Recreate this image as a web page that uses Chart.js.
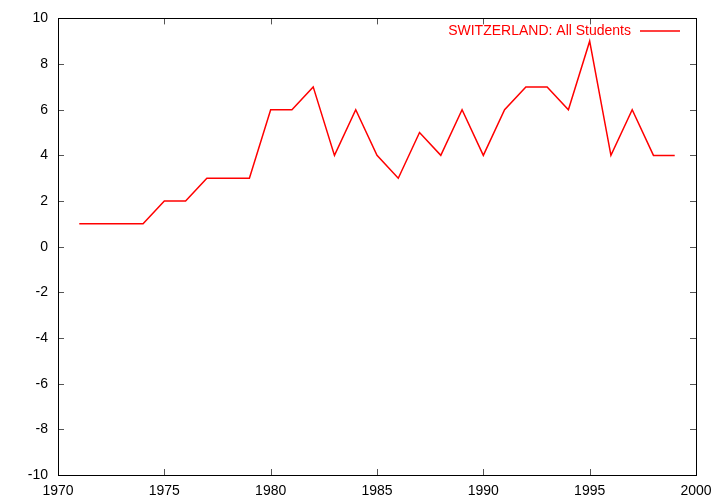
<!DOCTYPE html>
<html>
<head>
<meta charset="utf-8">
<script src="https://cdn.jsdelivr.net/npm/chart.js@4/dist/chart.umd.min.js"></script>
<style>
  html, body { margin: 0; padding: 0; background: #ffffff; }
  #wrap { width: 720px; height: 504px; }
</style>
</head>
<body>
<div id="wrap"><canvas id="chart" width="720" height="504"></canvas></div>
<script>
// ================= DATA =================

const years = [
    1971, 1972, 1973, 1974, 1975, 1976, 1977, 1978, 1979, 1980,
    1981, 1982, 1983, 1984, 1985, 1986, 1987, 1988, 1989, 1990,
    1991, 1992, 1993, 1994, 1995, 1996, 1997, 1998, 1999
];

const allStudents = [
    1, 1, 1, 1, 2, 2, 3, 3, 3, 6,
    6, 7, 4, 6, 4, 3, 5, 4, 6, 4,
    6, 7, 7, 6, 9, 4, 6, 4, 4
];

const seriesLabel = "SWITZERLAND: All Students";

const xTicks = [1970, 1975, 1980, 1985, 1990, 1995, 2000];
const yTicks = [-10, -8, -6, -4, -2, 0, 2, 4, 6, 8, 10];

const fontFamily = "'Liberation Sans', Arial, sans-serif";


// ================= FRAME, INWARD TICKS, KEY =================

const gnuplotFrame = {

    id: "gnuplotFrame",

    afterDatasetsDraw(chart) {

        const { ctx, chartArea: a, scales } = chart;
        const len = 6;

        ctx.save();

        // Tick marks pointing into the plot, mirrored
        ctx.strokeStyle = "#555555";
        ctx.lineWidth = 1;
        ctx.beginPath();

        xTicks.forEach(v => {
            const x = Math.round(scales.x.getPixelForValue(v)) + 0.5;
            ctx.moveTo(x, a.bottom);
            ctx.lineTo(x, a.bottom - len);
            ctx.moveTo(x, a.top);
            ctx.lineTo(x, a.top + len);
        });

        yTicks.forEach(v => {
            const y = Math.round(scales.y.getPixelForValue(v)) + 0.5;
            ctx.moveTo(a.left, y);
            ctx.lineTo(a.left + len, y);
            ctx.moveTo(a.right, y);
            ctx.lineTo(a.right - len, y);
        });

        ctx.stroke();

        // Border
        ctx.strokeStyle = "#000000";
        ctx.strokeRect(
            Math.round(a.left) + 0.5,
            Math.round(a.top) + 0.5,
            Math.round(a.right - a.left),
            Math.round(a.bottom - a.top)
        );

        // Key in the top right corner
        ctx.fillStyle = "#ff0000";
        ctx.font = "14px " + fontFamily;
        ctx.textAlign = "right";
        ctx.textBaseline = "middle";
        ctx.fillText(seriesLabel, a.right - 65, a.top + 13);

        ctx.strokeStyle = "#ff0000";
        ctx.lineWidth = 1.5;
        ctx.beginPath();
        ctx.moveTo(a.right - 56, a.top + 12.5);
        ctx.lineTo(a.right - 16, a.top + 12.5);
        ctx.stroke();

        ctx.restore();
    }
};


// ================= CHART =================

new Chart(
    document.getElementById("chart"),
    {
        type: "line",

        data: {
            datasets: [
                {
                    label: seriesLabel,

                    data: years.map((year, i) => ({
                        x: year,
                        y: allStudents[i]
                    })),

                    borderColor: "#ff0000",

                    borderWidth: 1.5,

                    pointRadius: 0,

                    tension: 0,

                    fill: false
                }
            ]
        },

        options: {
            responsive: false,

            animation: false,

            layout: {
                padding: {
                    top: 16,
                    right: 24,
                    left: 0,
                    bottom: 0
                }
            },

            plugins: {
                legend: { display: false },
                tooltip: { enabled: false }
            },

            scales: {
                x: {
                    type: "linear",
                    min: 1970,
                    max: 2000,
                    afterBuildTicks: scale => {
                        scale.ticks = xTicks.map(v => ({ value: v }));
                    },
                    afterFit: scale => {
                        scale.height = 29;
                    },
                    grid: { display: false, drawTicks: false },
                    border: { display: false },
                    ticks: {
                        color: "#000000",
                        padding: 8,
                        maxRotation: 0,
                        callback: value => String(value),
                        font: {
                            family: fontFamily,
                            size: 14
                        }
                    }
                },

                y: {
                    min: -10,
                    max: 10,
                    afterBuildTicks: scale => {
                        scale.ticks = yTicks.map(v => ({ value: v }));
                    },
                    afterFit: scale => {
                        scale.width = 58;
                    },
                    grid: { display: false, drawTicks: false },
                    border: { display: false },
                    ticks: {
                        color: "#000000",
                        padding: 10,
                        callback: value => String(value),
                        font: {
                            family: fontFamily,
                            size: 14
                        }
                    }
                }
            }
        },

        plugins: [
            gnuplotFrame
        ]
    }
);
</script>
</body>
</html>
